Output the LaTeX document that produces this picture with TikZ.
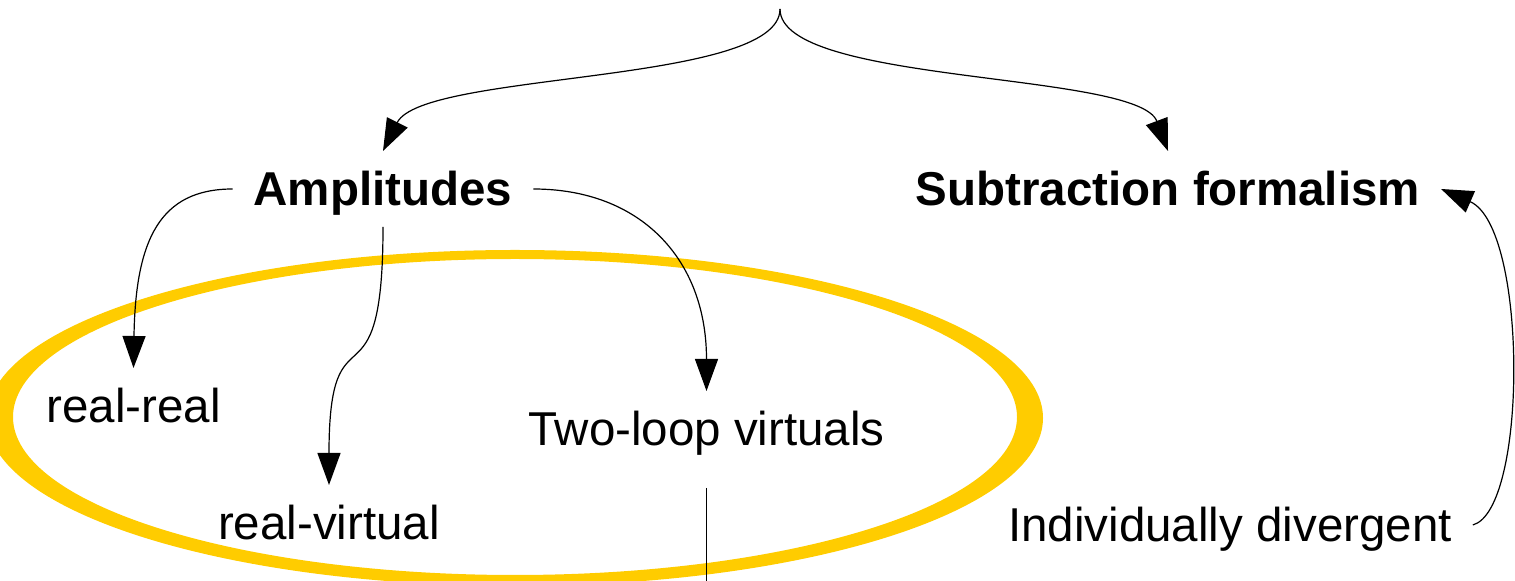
\documentclass[tikz,border=0pt]{standalone}
\usepackage{fontspec}
\setmainfont{Liberation Sans}
\usetikzlibrary{arrows.meta}
\definecolor{ellyellow}{HTML}{FFCC00}
\begin{document}
\begin{tikzpicture}[x=0.5pt,y=-0.5pt,
  lbl/.style={inner sep=0pt, outer sep=10.5pt, text height=17pt, text depth=0pt, anchor=base,
    font=\fontsize{23.75pt}{28pt}\selectfont},
  boldlbl/.style={lbl, font=\fontsize{23.75pt}{28pt}\selectfont\bfseries},
  conn/.style={line width=0.6pt, -{Triangle[length=16pt,width=11.5pt]}},
  lineonly/.style={line width=0.6pt}]
\useasboundingbox (0,0) rectangle (1515,581);
\clip (0,0) rectangle (1515,581);
% highlight ring
\fill[ellyellow, even odd rule] (515,418) ellipse [x radius=264pt, y radius=84pt]
  (515,417) ellipse [x radius=251pt, y radius=79pt];
% labels
\node[boldlbl] (amp) at (383,206) {Amplitudes};
\node[boldlbl] (sub) at (1168,206) {Subtraction formalism};
\node[lbl] (rr) at (133.5,423) {real-real};
\node[lbl] (rv) at (329,540) {real-virtual};
\node[lbl] (two) at (706.5,446) {Two-loop virtuals};
\node[lbl] (ind) at (1230,542) {Individually divergent};
\coordinate (top) at (780,9);
% connectors
\draw[conn] (top) .. controls +(0,76) and +(40,-80) .. (amp.north);
\draw[conn] (top) .. controls +(0,76) and +(-30,-80) .. (sub.north);
\draw[conn] (amp.west) .. controls +(-73,0) and +(2,-128) .. (rr.north);
\draw[conn] (amp.south) .. controls +(0,194) and +(0,-188) .. (rv.north);
\draw[conn] (amp.east) .. controls +(107,0) and +(0,-132) .. (two.north);
\draw[conn] (ind.east) .. controls +(55,-15) and +(87,38) .. (sub.east);
\draw[lineonly] ([yshift=-10.5pt]two.south) -- ++(0,120);
\end{tikzpicture}
\end{document}
